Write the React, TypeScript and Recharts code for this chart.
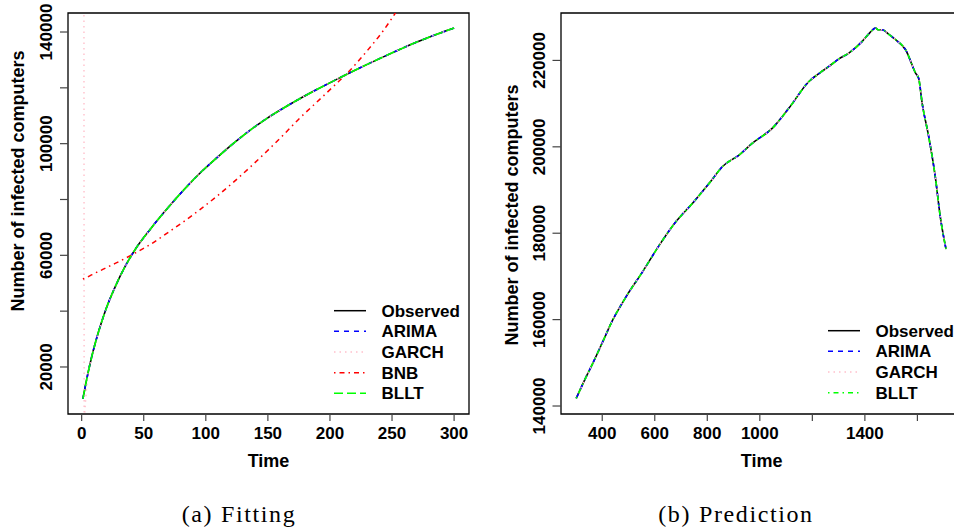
import { LineChart, Line, XAxis, YAxis, ReferenceArea, Legend, Label } from 'recharts';

// ---- (a) Fitting ----
const fitTime = [1, 2, 3, 5, 8, 12, 16, 20, 27, 35, 43, 55, 70, 82, 95, 109, 122, 135, 149, 162, 176, 189, 203, 216, 230, 243, 257, 270, 285, 300];
const fitObserved = [8600, 10900, 13200, 17600, 23500, 30200, 36000, 41200, 48700, 56000, 62000, 69200, 77300, 83300, 89300, 95000, 100000, 104600, 109000, 112600, 116200, 119300, 122500, 125400, 128400, 131100, 133900, 136400, 139000, 141400];
const fitArima = fitObserved;
const fitBllt = fitObserved;
const fitGarch = [950000, 0, 7000, 17600, 23500, 30200, 36000, 41200, 48700, 56000, 62000, 69200, 77300, 83300, 89300, 95000, 100000, 104600, 109000, 112600, 116200, 119300, 122500, 125400, 128400, 131100, 133900, 136400, 139000, 141400];
const fitBnb = [51500, 51700, 51900, 52300, 53000, 53900, 54700, 55600, 57100, 58900, 60800, 63800, 68300, 72000, 76300, 81200, 86100, 91300, 97200, 102900, 109300, 114700, 120600, 126200, 133300, 140500, 149700, 158500, 169000, 180000];
const fitXTicks = [0, 50, 100, 150, 200, 250, 300];
const fitYTicks = [20000, 40000, 60000, 80000, 100000, 120000, 140000];
const fitYLabelled = [20000, 60000, 100000, 140000];

// ---- (b) Prediction ----
const predTime = [301, 340, 364, 402, 440, 491, 554, 618, 681, 744, 808, 858, 922, 972, 1048, 1111, 1187, 1226, 1263, 1300, 1339, 1390, 1420, 1441, 1450, 1466, 1490, 1517, 1555, 1593, 1605, 1618, 1643, 1668, 1687, 1709];
const predObserved = [141780, 146900, 149890, 154890, 159920, 165320, 171110, 177300, 182700, 186960, 191600, 195440, 198150, 200860, 204340, 208970, 215130, 217000, 218610, 220300, 221710, 224400, 226500, 227500, 227100, 227110, 226100, 224800, 222480, 217080, 215800, 210130, 202390, 193120, 183850, 176300];
const predArima = predObserved;
const predGarch = predObserved;
const predBllt = predObserved;
const predXTicks = [400, 600, 800, 1000, 1200, 1400, 1600];
const predXLabelled = [400, 600, 800, 1000, 1400];
const predYTicks = [140000, 160000, 180000, 200000, 220000];

const fitData = fitTime.map((t, i) => ({
  t,
  observed: fitObserved[i],
  arima: fitArima[i],
  garch: fitGarch[i],
  bnb: fitBnb[i],
  bllt: fitBllt[i],
}));

const predData = predTime.map((t, i) => ({
  t,
  observed: predObserved[i],
  arima: predArima[i],
  garch: predGarch[i],
  bllt: predBllt[i],
}));

const SANS = '"Liberation Sans", Arial, Helvetica, sans-serif';
const order = ['observed', 'arima', 'garch', 'bnb', 'bllt'];

const fitDash: Record<string, string | undefined> = {
  observed: undefined,
  arima: '5 5',
  garch: '1.5 4',
  bnb: '1.5 4 5 4',
  bllt: '9 4',
};
const predDash: Record<string, string | undefined> = {
  observed: undefined,
  arima: '5 5',
  garch: '1.5 4',
  bllt: '1.5 4 5 4',
};

function makeLegend(dash: Record<string, string | undefined>) {
  return function LegendBox({ payload }: any) {
    const items = [...(payload || [])].sort(
      (a: any, b: any) => order.indexOf(a.dataKey) - order.indexOf(b.dataKey),
    );
    return (
      <svg width={170} height={110} style={{ overflow: 'visible' }}>
        {items.map((e: any, i: number) => {
          const cy = 10.7 + i * 20.65;
          return (
            <g key={e.dataKey}>
              <line x1={4} x2={36} y1={cy} y2={cy} stroke={e.color} strokeWidth={1.5} strokeDasharray={dash[e.dataKey]} />
              <text x={51.5} y={cy + 6} fontFamily={SANS} fontWeight="bold" fontSize={17} fill="#000">
                {e.value}
              </text>
            </g>
          );
        })}
      </svg>
    );
  };
}

function XTick({ x, y, payload, labelled }: any) {
  if (!labelled.includes(payload.value)) return <g />;
  return (
    <text x={x} y={y + 18.3} textAnchor="middle" fontFamily={SANS} fontWeight="bold" fontSize={17} fill="#000">
      {payload.value}
    </text>
  );
}

function YTick({ x, y, payload, labelled }: any) {
  if (!labelled.includes(payload.value)) return <g />;
  const bx = x - 7.5;
  return (
    <text x={bx} y={y} transform={`rotate(-90 ${bx} ${y})`} textAnchor="middle" fontFamily={SANS} fontWeight="bold" fontSize={17} fill="#000">
      {payload.value}
    </text>
  );
}

function AxisTitle({ x, y, text, rotate }: { x: number; y: number; text: string; rotate?: boolean }) {
  return (
    <text
      x={x}
      y={y}
      transform={rotate ? `rotate(-90 ${x} ${y})` : undefined}
      textAnchor="middle"
      fontFamily={SANS}
      fontWeight="bold"
      fontSize={18}
      fill="#000"
    >
      {text}
    </text>
  );
}

const tickStroke = { stroke: '#444', strokeWidth: 1.2 };

function FittingChart() {
  return (
    <LineChart width={480} height={470} data={fitData} margin={{ top: 13, right: 11, left: 0, bottom: 0 }}>
      <XAxis
        dataKey="t"
        type="number"
        domain={[-11, 312]}
        ticks={fitXTicks}
        interval={0}
        allowDataOverflow
        height={56}
        tickSize={7}
        tickMargin={0}
        axisLine={false}
        tickLine={tickStroke}
        tick={(p: any) => <XTick {...p} labelled={fitXTicks} />}
      >
        <Label content={() => <AxisTitle x={268.5} y={466.5} text="Time" />} />
      </XAxis>
      <YAxis
        type="number"
        domain={[3155, 146810]}
        ticks={fitYTicks}
        interval={0}
        allowDataOverflow
        width={68}
        tickSize={8}
        tickMargin={0}
        axisLine={false}
        tickLine={tickStroke}
        tick={(p: any) => <YTick {...p} labelled={fitYLabelled} />}
      >
        <Label content={() => <AxisTitle x={24} y={181} text="Number of infected computers" rotate />} />
      </YAxis>
      <ReferenceArea x1={-11} x2={312} y1={3155} y2={146810} fill="none" stroke="#000" strokeWidth={1.3} ifOverflow="visible" />
      <Line dataKey="observed" name="Observed" type="monotone" stroke="#000000" strokeWidth={1.6} dot={false} isAnimationActive={false} />
      <Line dataKey="arima" name="ARIMA" type="monotone" stroke="#0000ff" strokeWidth={1.6} strokeDasharray={fitDash.arima} dot={false} isAnimationActive={false} />
      <Line dataKey="garch" name="GARCH" type="linear" stroke="#ffc0cb" strokeWidth={1.4} strokeDasharray={fitDash.garch} dot={false} isAnimationActive={false} />
      <Line dataKey="bnb" name="BNB" type="monotone" stroke="#ff0000" strokeWidth={1.5} strokeDasharray={fitDash.bnb} dot={false} isAnimationActive={false} />
      <Line dataKey="bllt" name="BLLT" type="monotone" stroke="#00ff00" strokeWidth={1.6} strokeDasharray={fitDash.bllt} dot={false} isAnimationActive={false} />
      <Legend
        layout="vertical"
        align="center"
        verticalAlign="middle"
        wrapperStyle={{ left: 330, top: 300, width: 170, height: 110 }}
        content={makeLegend(fitDash)}
      />
    </LineChart>
  );
}

function PredictionChart() {
  return (
    <LineChart width={490} height={470} data={predData} margin={{ top: 13, right: 9, left: 0, bottom: 0 }}>
      <XAxis
        dataKey="t"
        type="number"
        domain={[243, 1766]}
        ticks={predXTicks}
        interval={0}
        allowDataOverflow
        height={56}
        tickSize={7}
        tickMargin={0}
        axisLine={false}
        tickLine={tickStroke}
        tick={(p: any) => <XTick {...p} labelled={predXLabelled} />}
      >
        <Label content={() => <AxisTitle x={281.7} y={466.5} text="Time" />} />
      </XAxis>
      <YAxis
        type="number"
        domain={[138150, 230980]}
        ticks={predYTicks}
        interval={0}
        allowDataOverflow
        width={81}
        tickSize={8.5}
        tickMargin={0}
        axisLine={false}
        tickLine={tickStroke}
        tick={(p: any) => <YTick {...p} labelled={predYTicks} />}
      >
        <Label content={() => <AxisTitle x={37.5} y={215} text="Number of infected computers" rotate />} />
      </YAxis>
      <ReferenceArea x1={243} x2={1766} y1={138150} y2={230980} fill="none" stroke="#000" strokeWidth={1.3} ifOverflow="visible" />
      <Line dataKey="observed" name="Observed" type="monotone" stroke="#000000" strokeWidth={1.6} dot={false} isAnimationActive={false} />
      <Line dataKey="arima" name="ARIMA" type="monotone" stroke="#0000ff" strokeWidth={1.6} strokeDasharray={predDash.arima} dot={false} isAnimationActive={false} />
      <Line dataKey="garch" name="GARCH" type="monotone" stroke="#ffc0cb" strokeWidth={1.4} strokeDasharray={predDash.garch} dot={false} isAnimationActive={false} />
      <Line dataKey="bllt" name="BLLT" type="monotone" stroke="#00ff00" strokeWidth={1.6} strokeDasharray={predDash.bllt} dot={false} isAnimationActive={false} />
      <Legend
        layout="vertical"
        align="center"
        verticalAlign="middle"
        wrapperStyle={{ left: 343.5, top: 320.3, width: 170, height: 90 }}
        content={makeLegend(predDash)}
      />
    </LineChart>
  );
}

const captionStyle: React.CSSProperties = {
  position: 'absolute',
  top: 502,
  fontFamily: '"Liberation Serif", "Times New Roman", serif',
  fontSize: 24,
  lineHeight: '24px',
  letterSpacing: 1.6,
  textAlign: 'center',
  color: '#000',
  whiteSpace: 'nowrap',
};

export default function App() {
  return (
    <div style={{ position: 'absolute', left: 0, top: 0, width: 954, height: 531, overflow: 'hidden', background: '#fff' }}>
      <div style={{ position: 'absolute', left: 0, top: 0 }}>
        <FittingChart />
      </div>
      <div style={{ position: 'absolute', left: 480, top: 0 }}>
        <PredictionChart />
      </div>
      <div style={{ ...captionStyle, left: 89, width: 300 }}>
        (a)<span style={{ marginLeft: 8 }}>Fitting</span>
      </div>
      <div style={{ ...captionStyle, left: 586, width: 300 }}>
        (b)<span style={{ marginLeft: 8 }}>Prediction</span>
      </div>
    </div>
  );
}
